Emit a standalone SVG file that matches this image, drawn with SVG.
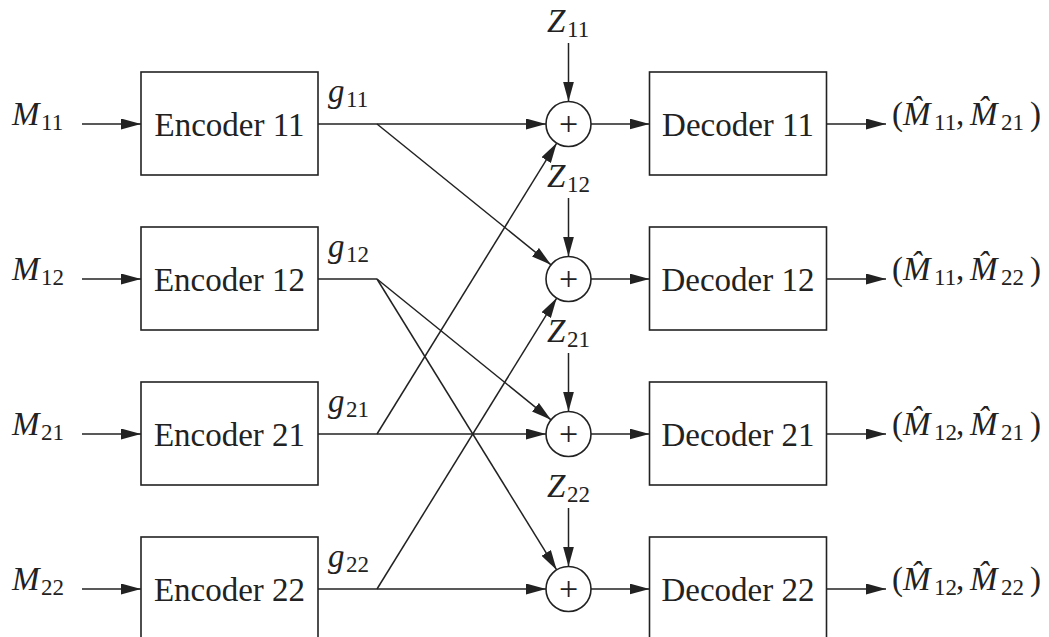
<svg xmlns="http://www.w3.org/2000/svg" width="1049" height="637" viewBox="0 0 1049 637" font-family="Liberation Serif, DejaVu Serif, Times New Roman, serif">
<style>
  .box { fill: #fff; stroke: #222; stroke-width: 1.6; }
  .sum { fill: #fff; stroke: #222; stroke-width: 1.6; }
  .ln { fill: none; stroke: #222; stroke-width: 1.5; }
  .arr { fill: none; stroke: #222; stroke-width: 1.5; marker-end: url(#ah); }
  text { fill: #222; font-size: 33px; }
  .bt { text-anchor: middle; }
  .it { font-style: italic; }
  .sub { font-size: 23px; }
  .plus { font-size: 34px; text-anchor: middle; }
</style>
<defs>
  <marker id="ah" markerUnits="userSpaceOnUse" markerWidth="20" markerHeight="11" refX="20" refY="5.5" orient="auto">
    <path d="M0,0 L20,5.5 L0,11 Z" fill="#222"/>
  </marker>
</defs>
<rect width="1049" height="637" fill="#fff"/>

<g id="connectors">
  <line class="arr" x1="82" y1="124" x2="141" y2="124"/>
  <line class="arr" x1="82" y1="279" x2="141" y2="279"/>
  <line class="arr" x1="82" y1="434" x2="141" y2="434"/>
  <line class="arr" x1="82" y1="589" x2="141" y2="589"/>
  <line class="arr" x1="318" y1="124" x2="546" y2="124"/>
  <line class="ln" x1="318" y1="279" x2="377" y2="279"/>
  <line class="arr" x1="318" y1="434" x2="546" y2="434"/>
  <line class="arr" x1="318" y1="589" x2="546" y2="589"/>
  <line class="arr" x1="377" y1="124" x2="551.0" y2="264.8"/>
  <line class="arr" x1="377" y1="279" x2="551.0" y2="419.8"/>
  <line class="arr" x1="377" y1="279" x2="556.7" y2="569.9"/>
  <line class="arr" x1="377" y1="434" x2="556.7" y2="143.1"/>
  <line class="arr" x1="377" y1="589" x2="556.7" y2="298.1"/>
  <line class="arr" x1="568.5" y1="43" x2="568.5" y2="101.5"/>
  <line class="arr" x1="568.5" y1="198" x2="568.5" y2="256.5"/>
  <line class="arr" x1="568.5" y1="353" x2="568.5" y2="411.5"/>
  <line class="arr" x1="568.5" y1="508" x2="568.5" y2="566.5"/>
  <line class="arr" x1="591" y1="124" x2="649.5" y2="124"/>
  <line class="arr" x1="591" y1="279" x2="649.5" y2="279"/>
  <line class="arr" x1="591" y1="434" x2="649.5" y2="434"/>
  <line class="arr" x1="591" y1="589" x2="649.5" y2="589"/>
  <line class="arr" x1="826.5" y1="124" x2="886" y2="124"/>
  <line class="arr" x1="826.5" y1="279" x2="886" y2="279"/>
  <line class="arr" x1="826.5" y1="434" x2="886" y2="434"/>
  <line class="arr" x1="826.5" y1="589" x2="886" y2="589"/>
</g>

<g id="inputs">
  <text x="12" y="125"><tspan class="it">M</tspan><tspan class="sub" x="41" y="130">11</tspan></text>
  <text x="12" y="280"><tspan class="it">M</tspan><tspan class="sub" x="41" y="285">12</tspan></text>
  <text x="12" y="435"><tspan class="it">M</tspan><tspan class="sub" x="41" y="440">21</tspan></text>
  <text x="12" y="590"><tspan class="it">M</tspan><tspan class="sub" x="41" y="595">22</tspan></text>
</g>

<g id="enc11"><rect class="box" x="141" y="72" width="177" height="103"/><text class="bt" x="229.5" y="136">Encoder 11</text></g>
<g id="enc12"><rect class="box" x="141" y="227" width="177" height="103"/><text class="bt" x="229.5" y="291">Encoder 12</text></g>
<g id="enc21"><rect class="box" x="141" y="382" width="177" height="103"/><text class="bt" x="229.5" y="446">Encoder 21</text></g>
<g id="enc22"><rect class="box" x="141" y="537" width="177" height="103"/><text class="bt" x="229.5" y="601">Encoder 22</text></g>

<g id="glabels">
  <text x="328" y="102"><tspan class="it">g</tspan><tspan class="sub" x="346" y="107">11</tspan></text>
  <text x="328" y="257"><tspan class="it">g</tspan><tspan class="sub" x="346" y="262">12</tspan></text>
  <text x="328" y="412"><tspan class="it">g</tspan><tspan class="sub" x="346" y="417">21</tspan></text>
  <text x="328" y="567"><tspan class="it">g</tspan><tspan class="sub" x="346" y="572">22</tspan></text>
</g>

<g id="noise">
  <text x="547" y="32"><tspan class="it">Z</tspan><tspan class="sub" x="567" y="37">11</tspan></text>
  <text x="547" y="187"><tspan class="it">Z</tspan><tspan class="sub" x="567" y="192">12</tspan></text>
  <text x="547" y="342"><tspan class="it">Z</tspan><tspan class="sub" x="567" y="347">21</tspan></text>
  <text x="547" y="497"><tspan class="it">Z</tspan><tspan class="sub" x="567" y="502">22</tspan></text>
</g>

<g id="sum11"><circle class="sum" cx="568.5" cy="124" r="22.5"/><text class="plus" x="568.5" y="135">+</text></g>
<g id="sum12"><circle class="sum" cx="568.5" cy="279" r="22.5"/><text class="plus" x="568.5" y="290">+</text></g>
<g id="sum21"><circle class="sum" cx="568.5" cy="434" r="22.5"/><text class="plus" x="568.5" y="445">+</text></g>
<g id="sum22"><circle class="sum" cx="568.5" cy="589" r="22.5"/><text class="plus" x="568.5" y="600">+</text></g>

<g id="dec11"><rect class="box" x="649.5" y="72" width="177" height="103"/><text class="bt" x="738" y="136">Decoder 11</text></g>
<g id="dec12"><rect class="box" x="649.5" y="227" width="177" height="103"/><text class="bt" x="738" y="291">Decoder 12</text></g>
<g id="dec21"><rect class="box" x="649.5" y="382" width="177" height="103"/><text class="bt" x="738" y="446">Decoder 21</text></g>
<g id="dec22"><rect class="box" x="649.5" y="537" width="177" height="103"/><text class="bt" x="738" y="601">Decoder 22</text></g>

<g id="outputs">
  <text y="125"><tspan x="892">(</tspan><tspan class="it" x="903">M̂</tspan><tspan class="sub" x="934" y="130">11</tspan><tspan x="956" y="125">,</tspan><tspan class="it" x="970">M̂</tspan><tspan class="sub" x="1001" y="130">21</tspan><tspan x="1030" y="125">)</tspan></text>
  <text y="280"><tspan x="892">(</tspan><tspan class="it" x="903">M̂</tspan><tspan class="sub" x="934" y="285">11</tspan><tspan x="956" y="280">,</tspan><tspan class="it" x="970">M̂</tspan><tspan class="sub" x="1001" y="285">22</tspan><tspan x="1030" y="280">)</tspan></text>
  <text y="435"><tspan x="892">(</tspan><tspan class="it" x="903">M̂</tspan><tspan class="sub" x="934" y="440">12</tspan><tspan x="956" y="435">,</tspan><tspan class="it" x="970">M̂</tspan><tspan class="sub" x="1001" y="440">21</tspan><tspan x="1030" y="435">)</tspan></text>
  <text y="590"><tspan x="892">(</tspan><tspan class="it" x="903">M̂</tspan><tspan class="sub" x="934" y="595">12</tspan><tspan x="956" y="590">,</tspan><tspan class="it" x="970">M̂</tspan><tspan class="sub" x="1001" y="595">22</tspan><tspan x="1030" y="590">)</tspan></text>
</g>
</svg>
